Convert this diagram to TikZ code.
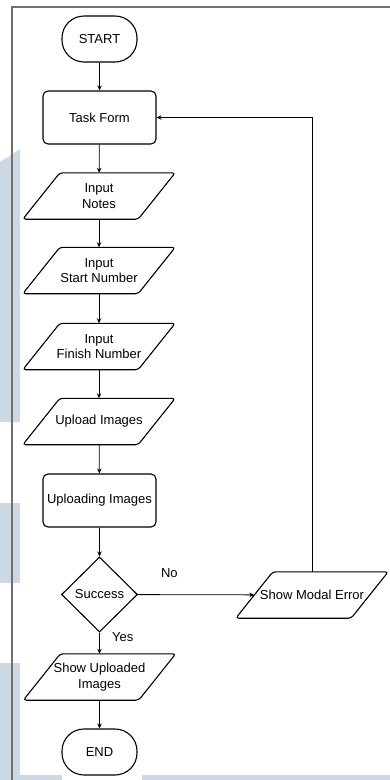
\documentclass[tikz,border=0pt]{standalone}
\usepackage{fontspec}
\setmainfont{Liberation Sans}
\usepackage{tikz}
\usetikzlibrary{positioning}
\usetikzlibrary{arrows.meta}
\usetikzlibrary{shapes.geometric}
\begin{document}
\begin{tikzpicture}[x=1pt,y=-1pt,>={Stealth[length=5pt,width=4.5pt]},
  font=\fontsize{13}{15.5}\selectfont,
  term/.style={rectangle,draw,line width=1.1pt,rounded corners=22pt,minimum width=75pt,minimum height=46pt,inner sep=0pt},
  proc/.style={rectangle,draw,line width=1.1pt,rounded corners=5pt,minimum width=113pt,minimum height=53pt,inner sep=0pt},
  io/.style={rectangle,minimum width=115pt,minimum height=46pt,inner sep=0pt,align=center},
  ioline/.style={draw,line width=1.1pt,rounded corners=3pt},
  decide/.style={diamond,draw,line width=1.1pt,minimum width=76pt,minimum height=75pt,inner sep=0pt},
  flow/.style={->,line width=0.8pt}]
\definecolor{wmblue}{RGB}{204,216,227};
\definecolor{framegray}{RGB}{112,112,112};
\useasboundingbox (0,0) rectangle (390,780);
\fill[wmblue] (0,162) -- (20,149) -- (20,422) -- (0,422) -- cycle;
\fill[wmblue] (0,503) rectangle (20,583);
\fill[wmblue] (0,663) rectangle (20,780);
\fill[wmblue] (20,775) rectangle (62,780);
\fill[wmblue] (142,775) rectangle (390,780);
\draw[framegray,line width=1.6pt] (12,780) -- (12,7) -- (390,7);
\node [term] (start) at (99.5,39) {START};
\node [proc] (tf) at (99.5,117.5) {Task Form};
\node [io] (notes) at (99,196) {Input\\Notes};
\node [io] (startno) at (99,270.5) {Input\\Start Number};
\node [io] (finishno) at (99,346.5) {Input\\Finish Number};
\node [io] (upl) at (99,421.5) {Upload Images};
\node [proc] (upling) at (99.5,500.5) {Uploading Images};
\node [decide] (succ) at (99.5,594.5) {Success};
\node [io] (modal) at (312,595) {Show Modal Error};
\node [io] (shown) at (99.5,677) {Show Uploaded\\Images};
\node [term] (fin) at (99.5,752) {END};
\foreach \n in {notes,startno,finishno,upl,modal,shown}
  \draw[ioline] ([xshift=-18.5pt]\n.south west) -- ([xshift=18.5pt]\n.north west)
    -- ([xshift=18.5pt]\n.north east) -- ([xshift=-18.5pt]\n.south east) -- cycle;
\draw[flow] (start) -- (tf);
\draw[flow] (tf) -- (notes);
\draw[flow] (notes) -- (startno);
\draw[flow] (startno) -- (finishno);
\draw[flow] (finishno) -- (upl);
\draw[flow] (upl) -- (upling);
\draw[flow] (upling) -- (succ);
\draw[flow] (succ) -- node[pos=0.27,above=13pt] {No} (modal);
\draw[flow] (succ) -- node[pos=0.2,right=9pt] {Yes} (shown);
\draw[flow] (shown) -- (fin);
\draw[flow] (modal.north) |- (tf.east);
\end{tikzpicture}
\end{document}
